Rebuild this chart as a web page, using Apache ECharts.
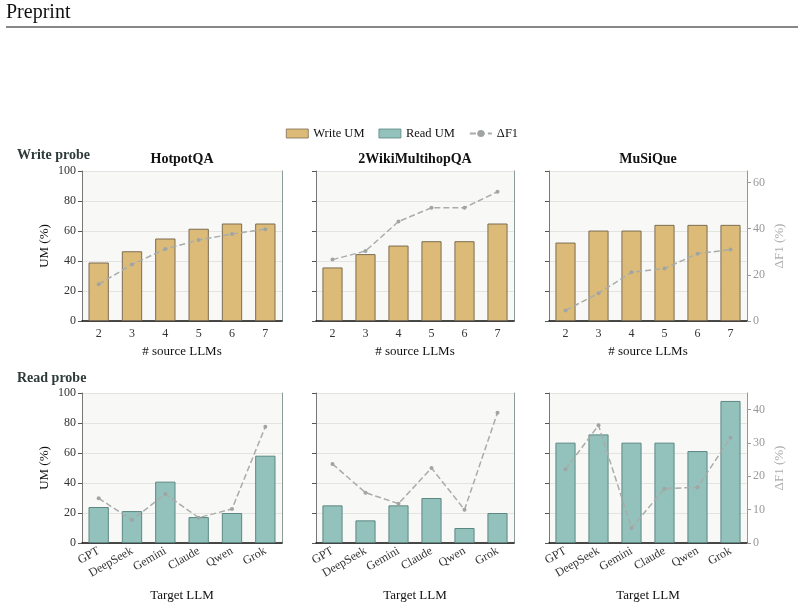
<!DOCTYPE html>
<html>
<head>
<meta charset="utf-8">
<script src="https://cdn.jsdelivr.net/npm/echarts@6/dist/echarts.min.js"></script>
<style>
  html, body { margin: 0; padding: 0; background: #fff; }
  #main { width: 804px; height: 611px; }
</style>
</head>
<body>
<div id="main"></div>
<script>
// categories
var sourceLLMs = ['2', '3', '4', '5', '6', '7'];
var targetLLMs = ['GPT', 'DeepSeek', 'Gemini', 'Claude', 'Qwen', 'Grok'];
var datasets = ['HotpotQA', '2WikiMultihopQA', 'MuSiQue'];

// write probe: UM (%) bars, ΔF1 (%) line
var writeUM_hotpot = [39, 46.5, 55, 61.5, 65, 65];
var writeUM_2wiki = [35.7, 44.6, 50.3, 53.2, 53.2, 65];
var writeUM_musique = [52.3, 60.3, 60.3, 64.1, 64.1, 64.1];
var writeF1_hotpot = [15.9, 24.5, 31.2, 35.1, 37.7, 39.8];
var writeF1_2wiki = [26.6, 30.3, 43.1, 49.1, 49.1, 56];
var writeF1_musique = [4.6, 12, 21.1, 22.8, 29.1, 31];

// read probe
var readUM_hotpot = [24, 21.3, 40.9, 17.3, 20, 58.2];
var readUM_2wiki = [25.1, 15.1, 25.1, 30, 10, 20];
var readUM_musique = [66.9, 72.4, 66.9, 66.9, 61.3, 94.7];
var readF1_hotpot = [13.4, 6.9, 14.7, 7.6, 10.2, 34.9];
var readF1_2wiki = [23.7, 15.1, 11.8, 22.5, 10, 39.1];
var readF1_musique = [22.1, 35.3, 4.5, 16.3, 16.7, 31.6];

// tick labels
var writeF1Ticks = [0, 20, 40, 60];
var readF1Ticks = [0, 10, 20, 30, 40];

var font = 'Liberation Serif';
var writeColor = '#dcbb78', writeEdge = '#7d6d52';
var readColor = '#93c1bb', readEdge = '#5c8883';

var lefts = [82, 316, 549];
var widths = [200, 198, 198];
var tops = [171, 393];
var plotH = 150;

var umData = [[writeUM_hotpot, writeUM_2wiki, writeUM_musique], [readUM_hotpot, readUM_2wiki, readUM_musique]];
var f1Data = [[writeF1_hotpot, writeF1_2wiki, writeF1_musique], [readF1_hotpot, readF1_2wiki, readF1_musique]];

var grid = [], xAxis = [], yAxis = [], series = [], title = [];

for (var r = 0; r < 2; r++) {
  for (var c = 0; c < 3; c++) {
    var g = r * 3 + c;
    grid.push({
      left: lefts[c], top: tops[r], width: widths[c], height: plotH,
      show: true, backgroundColor: '#f8f8f6', borderWidth: 0
    });
    xAxis.push({
      type: 'category', gridIndex: g,
      data: r === 0 ? sourceLLMs : targetLLMs,
      axisLine: { lineStyle: { color: '#111', width: 1.5 } },
      axisTick: { alignWithLabel: true, length: 4, lineStyle: { color: '#333' } },
      axisLabel: {
        fontFamily: font, fontSize: 12, color: '#333', margin: 7,
        rotate: r === 0 ? 0 : 30, interval: 0
      },
      name: r === 0 ? '# source LLMs' : 'Target LLM',
      nameLocation: 'middle', nameGap: r === 0 ? 24 : 46,
      nameTextStyle: { fontFamily: font, fontSize: 13, color: '#111' }
    });
    yAxis.push({
      type: 'value', gridIndex: g, min: 0, max: 100, interval: 20,
      axisLine: { show: true, lineStyle: { color: '#777' } },
      axisTick: { show: true, length: 4, lineStyle: { color: '#555' } },
      axisLabel: { show: c === 0, fontFamily: font, fontSize: 12, color: '#333', margin: 6 },
      splitLine: { show: true, lineStyle: { color: '#e3e3e0', width: 1 } },
      name: c === 0 ? 'UM (%)' : '',
      nameLocation: 'middle', nameGap: 31,
      nameTextStyle: { fontFamily: font, fontSize: 13, color: '#111' }
    });
    var ticksR = r === 0 ? writeF1Ticks : readF1Ticks;
    yAxis.push({
      type: 'value', gridIndex: g, position: 'right', min: 0, max: r === 0 ? 65 : 45,
      axisLine: { show: true, lineStyle: { color: '#8c9c98' } },
      axisTick: { show: c === 2, length: 4, customValues: ticksR, lineStyle: { color: '#999' } },
      axisLabel: { show: c === 2, customValues: ticksR, fontFamily: font, fontSize: 12, color: '#999', margin: 6 },
      splitLine: { show: false },
      name: c === 2 ? 'ΔF1 (%)' : '',
      nameLocation: 'middle', nameGap: 26, nameRotate: 90,
      nameTextStyle: { fontFamily: font, fontSize: 13, color: '#aaa' }
    });
    series.push({
      type: 'bar', name: r === 0 ? 'Write UM' : 'Read UM',
      xAxisIndex: g, yAxisIndex: g * 2,
      data: umData[r][c], barWidth: '61%',
      itemStyle: {
        color: r === 0 ? writeColor : readColor,
        borderColor: r === 0 ? writeEdge : readEdge, borderWidth: 1
      },
      z: 2
    });
    series.push({
      type: 'line', name: 'ΔF1',
      xAxisIndex: g, yAxisIndex: g * 2 + 1,
      data: f1Data[r][c],
      symbol: 'circle', symbolSize: 4,
      itemStyle: { color: '#a0a4a2' },
      lineStyle: { type: [6, 3], width: 1.5, color: '#a8acaa' },
      z: 3
    });
  }
}

for (var i = 0; i < 3; i++) {
  title.push({
    text: datasets[i], left: lefts[i] + widths[i] / 2, top: 152, padding: 0, textAlign: 'center',
    textStyle: { fontFamily: font, fontSize: 14, fontWeight: 'bold', color: '#111' }
  });
}
title.push({ text: 'Write probe', left: 17, top: 148, padding: 0, textStyle: { fontFamily: font, fontSize: 14, fontWeight: 'bold', color: '#2e3a3a' } });
title.push({ text: 'Read probe', left: 17, top: 371, padding: 0, textStyle: { fontFamily: font, fontSize: 14, fontWeight: 'bold', color: '#2e3a3a' } });

var chart = echarts.init(document.getElementById('main'));
chart.setOption({
  animation: false,
  backgroundColor: '#fff',
  title: title,
  legend: {
    left: 'center', top: 122, itemWidth: 22, itemHeight: 9, itemGap: 14,
    data: [
      { name: 'Write UM', icon: 'rect', itemStyle: { borderWidth: 0.8 } },
      { name: 'Read UM', icon: 'rect', itemStyle: { borderWidth: 0.8 } },
      { name: 'ΔF1' }
    ],
    textStyle: { fontFamily: font, fontSize: 12.5, color: '#111' }
  },
  graphic: [
    { type: 'text', left: 6, top: 3, style: { text: 'Preprint', font: '20px "Liberation Serif"', fill: '#111' } },
    { type: 'line', shape: { x1: 6, y1: 27, x2: 798, y2: 27 }, style: { stroke: '#111', lineWidth: 1.2 } }
  ],
  grid: grid,
  xAxis: xAxis,
  yAxis: yAxis,
  series: series
});
</script>
</body>
</html>
